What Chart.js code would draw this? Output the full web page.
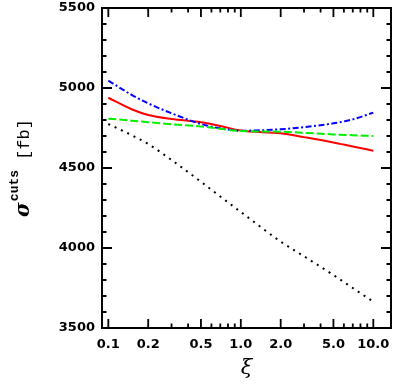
<!DOCTYPE html>
<html>
<head>
<meta charset="utf-8">
<script src="https://cdn.jsdelivr.net/npm/chart.js@4/dist/chart.umd.min.js"></script>
<style>
  html,body{margin:0;padding:0;background:#fff;}
  canvas{display:block;}
</style>
</head>
<body>
<canvas id="chart" width="395" height="387"></canvas>
<script>
// xi values where the curves are sampled
const xi = [0.1, 0.15, 0.2, 0.3, 0.5, 0.7, 1, 2, 3, 5, 7, 10];

// sigma^cuts [fb]
const sigmaRed   = [4939, 4867, 4831, 4806, 4786, 4763, 4734, 4717, 4693, 4660, 4634, 4608];
const sigmaBlue  = [5046, 4957, 4904, 4842, 4775, 4748, 4733, 4742, 4755, 4779, 4804, 4846];
const sigmaGreen = [4808, 4796, 4786, 4773, 4760, 4745, 4731, 4727, 4720, 4710, 4705, 4700];
const sigmaBlack = [4775, 4705, 4650, 4550, 4414, 4322, 4225, 4040, 3948, 3831, 3750, 3664];

// axis ticks
const xTicks  = [0.1, 0.2, 0.3, 0.4, 0.5, 0.6, 0.7, 0.8, 0.9, 1, 2, 3, 4, 5, 6, 7, 8, 9, 10];
const xLabels = [0.1, 0.2, 0.5, 1, 2, 5, 10];
const yTicks  = [3500, 3600, 3700, 3800, 3900, 4000, 4100, 4200, 4300, 4400, 4500,
                 4600, 4700, 4800, 4900, 5000, 5100, 5200, 5300, 5400, 5500];
const yLabels = [3500, 4000, 4500, 5000, 5500];

function pts(vals){
    return xi.map((x,i)=>({x:x, y:vals[i]}));
}

function line(vals, color, dash, width){
    return {
        data: pts(vals),
        borderColor: color,
        borderWidth: width,
        borderDash: dash,
        borderCapStyle: "butt",
        pointRadius: 0,
        fill: false,
        cubicInterpolationMode: "monotone"
    };
}

const tickFont = {family: "DejaVu Sans", size: 13, weight: "bold"};

// frame, inward ticks and axis titles
const framePlugin = {
    id: "frame",
    afterDatasetsDraw(chart){
        const ctx = chart.ctx;
        const a = chart.chartArea;
        const x = chart.scales.x;
        const y = chart.scales.y;

        ctx.save();
        ctx.strokeStyle = "#000";

        ctx.lineWidth = 1.8;
        ctx.beginPath();
        xTicks.forEach(v=>{
            const px = x.getPixelForValue(v);
            const len = xLabels.includes(v) ? 9 : 4.5;
            ctx.moveTo(px, a.bottom); ctx.lineTo(px, a.bottom - len);
            ctx.moveTo(px, a.top);    ctx.lineTo(px, a.top + len);
        });
        yTicks.forEach(v=>{
            const py = y.getPixelForValue(v);
            const len = yLabels.includes(v) ? 10 : 4.5;
            ctx.moveTo(a.left, py);  ctx.lineTo(a.left + len, py);
            ctx.moveTo(a.right, py); ctx.lineTo(a.right - len, py);
        });
        ctx.stroke();

        ctx.lineWidth = 2;
        ctx.strokeRect(a.left, a.top, a.right - a.left, a.bottom - a.top);

        // x title
        ctx.fillStyle = "#000";
        ctx.font = 'italic 21px "DejaVu Serif"';
        ctx.textAlign = "center";
        ctx.textBaseline = "alphabetic";
        ctx.fillText("ξ", (a.left + a.right) / 2, a.bottom + 46);

        // y title
        const f1 = 'bold italic 20px "DejaVu Serif"';
        const f2 = 'bold 13px "Liberation Mono"';
        const f3 = '17px "Liberation Mono"';
        ctx.font = f1; const w1 = ctx.measureText("σ").width;
        ctx.font = f2; const w2 = ctx.measureText("cuts").width;
        ctx.font = f3; const w3 = ctx.measureText("[fb]").width;
        const gap = 10;
        const total = w1 + 1 + w2 + gap + w3;
        const cy = (a.top + a.bottom) / 2;

        ctx.translate(29, cy + total / 2);
        ctx.rotate(-Math.PI / 2);
        ctx.textAlign = "left";
        ctx.font = f1; ctx.fillText("σ", 0, 0);
        ctx.font = f2; ctx.fillText("cuts", w1 + 1, -11);
        ctx.font = f3; ctx.fillText("[fb]", w1 + 1 + w2 + gap, 0);

        ctx.restore();
    }
};

new Chart(document.getElementById("chart"), {
    type: "line",
    data: {
        datasets: [
            line(sigmaBlack, "#000000", [2, 5], 2),
            line(sigmaGreen, "#00f000", [8, 3], 2),
            line(sigmaBlue,  "#0000ff", [6, 2.5, 2, 2.5], 2),
            line(sigmaRed,   "#ff0000", [], 2)
        ]
    },
    options: {
        responsive: false,
        animation: false,
        devicePixelRatio: 1,
        layout: {padding: {top: 8, right: 4, left: 0, bottom: 0}},
        plugins: {
            legend: {display: false},
            tooltip: {enabled: false}
        },
        scales: {
            x: {
                type: "logarithmic",
                min: 0.0896,
                max: 13.6,
                afterBuildTicks(scale){
                    scale.ticks = xLabels.map(v=>({value: v}));
                },
                afterFit(scale){
                    scale.height = 59;
                    scale.paddingLeft = 0;
                    scale.paddingRight = 0;
                },
                grid: {display: false, drawTicks: false},
                border: {display: false},
                ticks: {
                    autoSkip: false,
                    maxRotation: 0,
                    padding: 9,
                    color: "#000",
                    font: tickFont,
                    callback: v => Number(v).toFixed(1)
                }
            },
            y: {
                type: "linear",
                min: 3500,
                max: 5500,
                afterBuildTicks(scale){
                    scale.ticks = yLabels.map(v=>({value: v}));
                },
                afterFit(scale){
                    scale.width = 102;
                    scale.paddingTop = 0;
                    scale.paddingBottom = 0;
                },
                grid: {display: false, drawTicks: false},
                border: {display: false},
                ticks: {
                    autoSkip: false,
                    padding: 7,
                    color: "#000",
                    font: tickFont,
                    callback: v => String(v)
                }
            }
        }
    },
    plugins: [framePlugin]
});
</script>
</body>
</html>
